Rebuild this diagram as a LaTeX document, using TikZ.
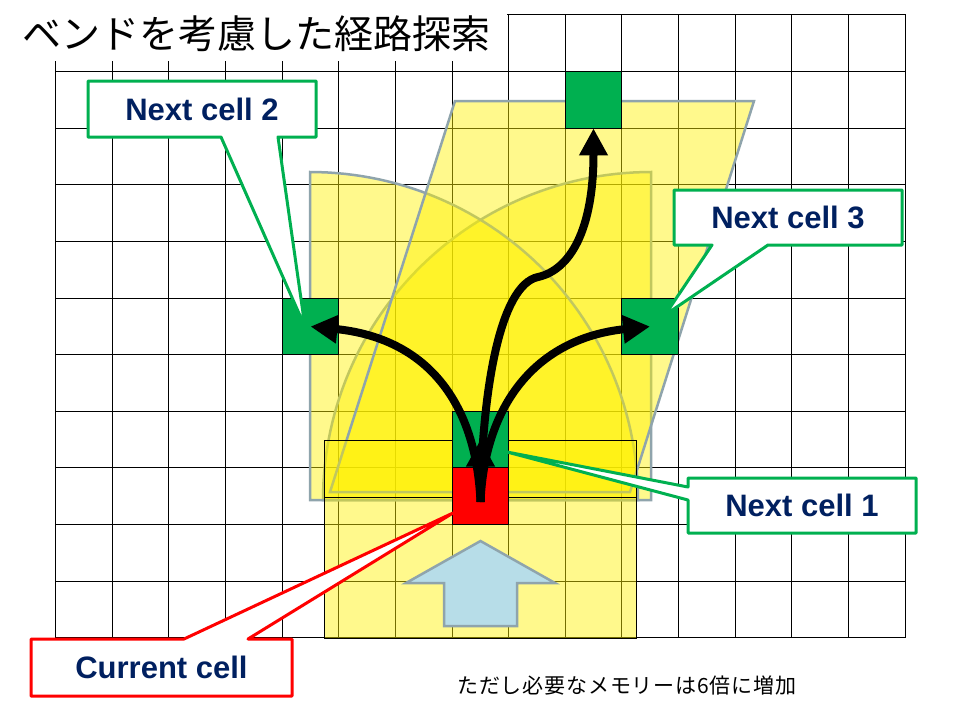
\documentclass[tikz,border=0pt]{standalone}
\usepackage{fontspec}
\setmainfont{Liberation Sans}
\newfontfamily\jp{Noto Sans CJK JP}
\usetikzlibrary{arrows.meta}
\definecolor{cgreen}{RGB}{0,176,80}
\definecolor{cnavy}{RGB}{0,32,96}
\definecolor{cgray}{RGB}{143,164,172}
\definecolor{cblue}{RGB}{183,221,232}
\tikzset{
  gridline/.style={black, line width=1pt},
  zone/.style={fill=yellow, fill opacity=0.45, draw=cgray, line width=2.5pt, line join=miter},
  boxzone/.style={fill=yellow, fill opacity=0.45, draw=black, line width=1pt},
  cellbox/.style={draw=black, line width=1pt, minimum size=56.63pt, inner sep=0pt, outer sep=0pt},
  flow/.style={line width=8pt, -{Triangle[length=27pt,width=27pt]}},
  callg/.style={fill=white, draw=cgreen, line width=3pt, line join=round},
  callr/.style={fill=white, draw=red, line width=3pt, line join=round},
  lbl/.style={text=cnavy, font=\fontsize{31}{31}\selectfont\bfseries, inner sep=0pt},
}
\begin{document}
\begin{tikzpicture}[x=1pt,y=-1pt]
\useasboundingbox (0,0) rectangle (960,720);
\fill[white] (0,0) rectangle (960,720);
% grid
\foreach \gx in {55.5,112.5,168.5,225.5,282.5,338.5,395.5,452.5,508.5,565.5,621.5,678.5,735.5,791.5,848.5,905.5}
  \draw[gridline] (\gx,14.5) -- (\gx,637.5);
\foreach \gy in {14.5,71.5,128.5,184.5,241.5,298.5,354.5,411.5,467.5,524.5,581.5,637.5}
  \draw[gridline] (55.5,\gy) -- (905.5,\gy);
% title area
\fill[white] (0,0) rectangle (507,61);
% zones
\draw[zone] (651,500) -- plot[domain=90:180, samples=60] ({651+328*cos(\x)},{500-328*sin(\x)}) -- cycle;
\draw[zone] (310,500) -- plot[domain=90:0, samples=60] ({310+328*cos(\x)},{500-328*sin(\x)}) -- cycle;
\draw[zone] (455,101) -- (754,101) -- (630,492) -- (330,492) -- cycle;
\draw[boxzone] (324,497) rectangle (636,638);
\draw[boxzone] (324,440) rectangle (636,497);
% light blue direction arrow
\draw[fill=cblue, draw=cgray, line width=2.5pt, line join=miter] (480.5,541) -- (555,583) -- (517,583) -- (517,626) -- (444,626) -- (444,583) -- (406,583) -- cycle;
% cells
\node[cellbox, fill=red] (cur) at (480.5,496) {};
\node[cellbox, fill=cgreen] (nc1) at (480.5,439.5) {};
\node[cellbox, fill=cgreen] (nc2) at (310.5,326.5) {};
\node[cellbox, fill=cgreen] (nc3) at (650,326.5) {};
\node[cellbox, fill=cgreen] (nc4) at (593.5,100) {};
% flows
\coordinate (src) at (480.5,502);
\draw[flow] (src) -- (nc1.center);
\draw[flow] (src) .. controls (476,400) and (425,338) .. (nc2.center);
\draw[flow] (src) .. controls (485,400) and (540,338) .. (nc3.center);
\draw[flow] (src) .. controls (482,390) and (500,285) .. (538,277) .. controls (570,270) and (593.5,230) .. (nc4.south);
% callouts
\draw[callg] (88,81) -- (316,81) -- (316,137) -- (278,137) -- (305,327) -- (221,137) -- (88,137) -- cycle;
\node[lbl] (t2) at (202,109) {Next cell 2};
\draw[callg] (674,190) -- (902,190) -- (902,245) -- (768,245) -- (665,315) -- (712,245) -- (674,245) -- cycle;
\node[lbl] (t3) at (788,217.5) {Next cell 3};
\draw[callg] (688,478) -- (916,478) -- (916,533) -- (688,533) -- (688,500) -- (507,452) -- (688,487) -- cycle;
\node[lbl] (t1) at (802,505.5) {Next cell 1};
\draw[callr] (31,639) -- (184,639) -- (453,513) -- (248,639) -- (292,639) -- (292,696) -- (31,696) -- cycle;
\node[lbl] (tc) at (161.5,667.5) {Current cell};
% texts
\node[anchor=west, inner sep=0pt] (title) at (22,34) {\fontsize{39}{39}\selectfont\jp ベンドを考慮した経路探索};
\node[anchor=west, inner sep=0pt] (note) at (457,686) {\fontsize{21}{21}\selectfont\jp\addfontfeature{LetterSpace=4}ただし必要なメモリーは6倍に増加};
\end{tikzpicture}
\end{document}
